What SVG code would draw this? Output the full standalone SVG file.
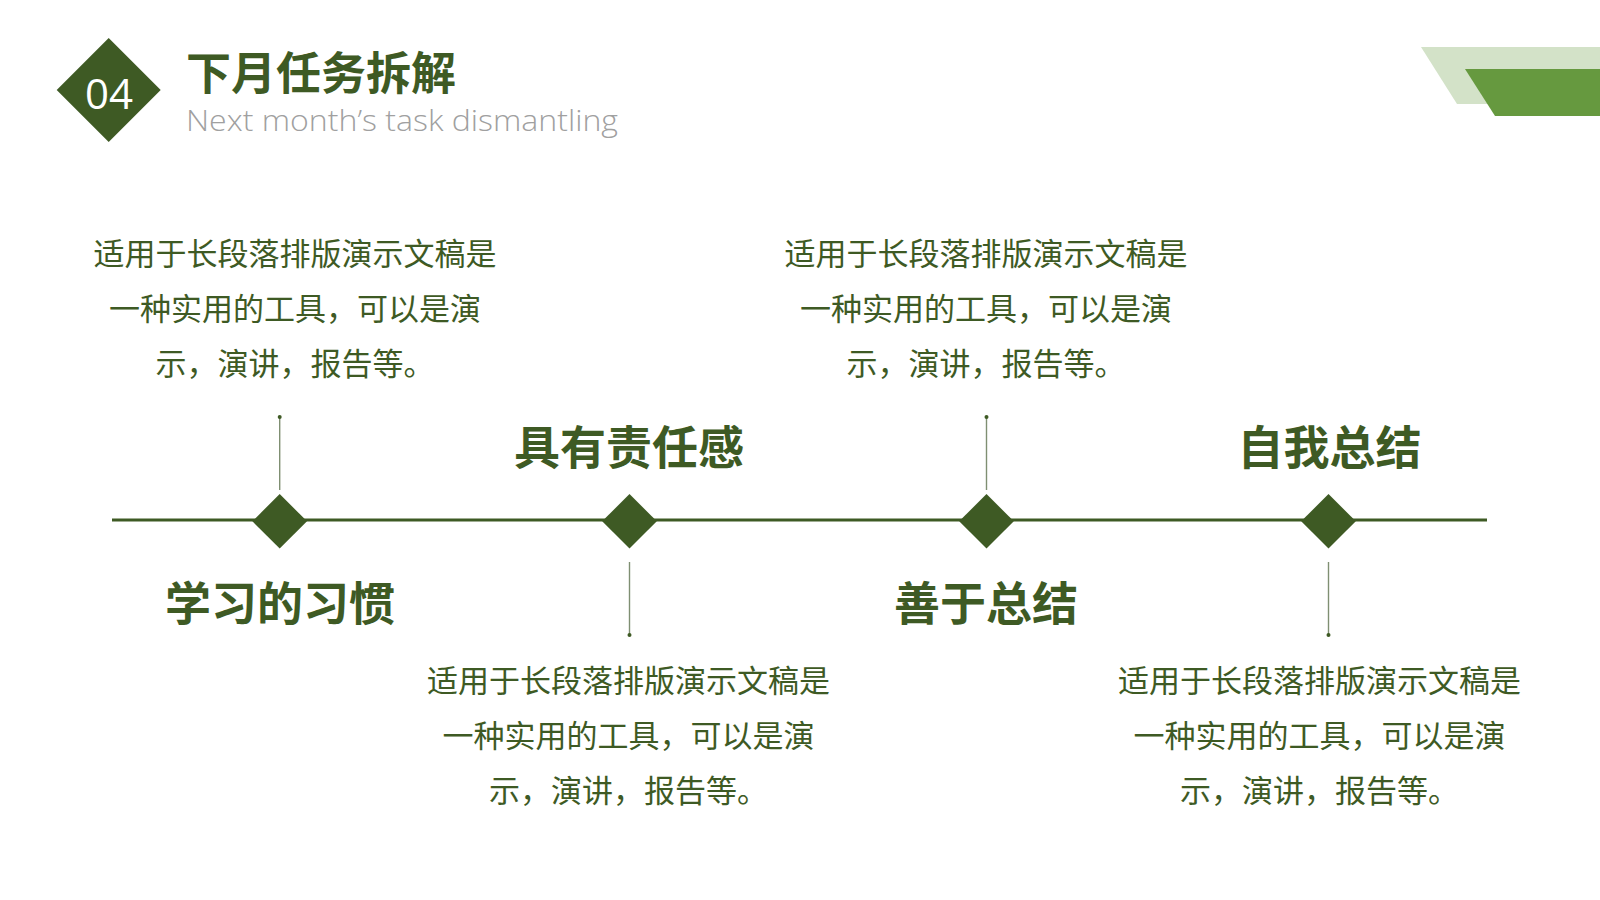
<svg xmlns="http://www.w3.org/2000/svg" width="1600" height="900" viewBox="0 0 1600 900">
  <style>
    .cn { font-family: "Noto Sans CJK SC", "Noto Sans", sans-serif; fill: #3e5a24; text-anchor: middle; }
    .body { font-size: 31px; }
    .head { font-size: 46px; font-weight: bold; }
    .conn { stroke: #7f8f72; stroke-width: 1.4; }
    .dot { fill: #3e5a24; }
    .dia { fill: #3e5a24; }
  </style>
  <rect width="1600" height="900" fill="#ffffff"/>

  <g id="header">
    <polygon points="108.7,38 160.7,90 108.7,142 56.7,90" fill="#3e5a24"/>
    <text x="109" y="109" font-family="Open Sans, Liberation Sans, sans-serif" font-size="42" fill="#ffffff" text-anchor="middle">04</text>
    <text x="186" y="90" font-family="Noto Sans CJK SC, sans-serif" font-size="45" font-weight="bold" fill="#3e5a24">下月任务拆解</text>
    <text x="186" y="131" font-family="Open Sans, Liberation Sans, sans-serif" font-size="29" font-weight="300" fill="#a0a0a0" textLength="432" lengthAdjust="spacingAndGlyphs">Next month’s task dismantling</text>
  </g>

  <g id="corner-decor">
    <polygon points="1421,47 1600,47 1600,104 1457,104" fill="#d3e2c8"/>
    <polygon points="1465,69 1600,69 1600,116 1495,116" fill="#66993f"/>
  </g>

  <g id="connectors">
    <line x1="112" y1="520" x2="1487" y2="520" stroke="#3e5a24" stroke-width="3"/>
    <line class="conn" x1="279.7" y1="417" x2="279.7" y2="490"/>
    <circle class="dot" cx="279.7" cy="417" r="2"/>
    <line class="conn" x1="629.5" y1="562" x2="629.5" y2="635"/>
    <circle class="dot" cx="629.5" cy="635" r="2"/>
    <line class="conn" x1="986.5" y1="417" x2="986.5" y2="490"/>
    <circle class="dot" cx="986.5" cy="417" r="2"/>
    <line class="conn" x1="1328.5" y1="562" x2="1328.5" y2="635"/>
    <circle class="dot" cx="1328.5" cy="635" r="2"/>
  </g>

  <g id="node1">
    <polygon class="dia" points="279.7,494 307,521.3 279.7,548.6 252.4,521.3"/>
    <text class="cn head" x="280" y="620">学习的习惯</text>
    <text class="cn body" x="295" y="265">适用于长段落排版演示文稿是</text>
    <text class="cn body" x="295" y="320">一种实用的工具，可以是演</text>
    <text class="cn body" x="295" y="375">示，演讲，报告等。</text>
  </g>

  <g id="node2">
    <polygon class="dia" points="629.5,494 656.8,521.3 629.5,548.6 602.2,521.3"/>
    <text class="cn head" x="629" y="464">具有责任感</text>
    <text class="cn body" x="628.6" y="691.5">适用于长段落排版演示文稿是</text>
    <text class="cn body" x="628.6" y="746.5">一种实用的工具，可以是演</text>
    <text class="cn body" x="628.6" y="801.5">示，演讲，报告等。</text>
  </g>

  <g id="node3">
    <polygon class="dia" points="986.5,494 1013.8,521.3 986.5,548.6 959.2,521.3"/>
    <text class="cn head" x="986" y="620">善于总结</text>
    <text class="cn body" x="986" y="265">适用于长段落排版演示文稿是</text>
    <text class="cn body" x="986" y="320">一种实用的工具，可以是演</text>
    <text class="cn body" x="986" y="375">示，演讲，报告等。</text>
  </g>

  <g id="node4">
    <polygon class="dia" points="1328.5,494 1355.8,521.3 1328.5,548.6 1301.2,521.3"/>
    <text class="cn head" x="1329.5" y="464">自我总结</text>
    <text class="cn body" x="1319.4" y="691.5">适用于长段落排版演示文稿是</text>
    <text class="cn body" x="1319.4" y="746.5">一种实用的工具，可以是演</text>
    <text class="cn body" x="1319.4" y="801.5">示，演讲，报告等。</text>
  </g>
</svg>
